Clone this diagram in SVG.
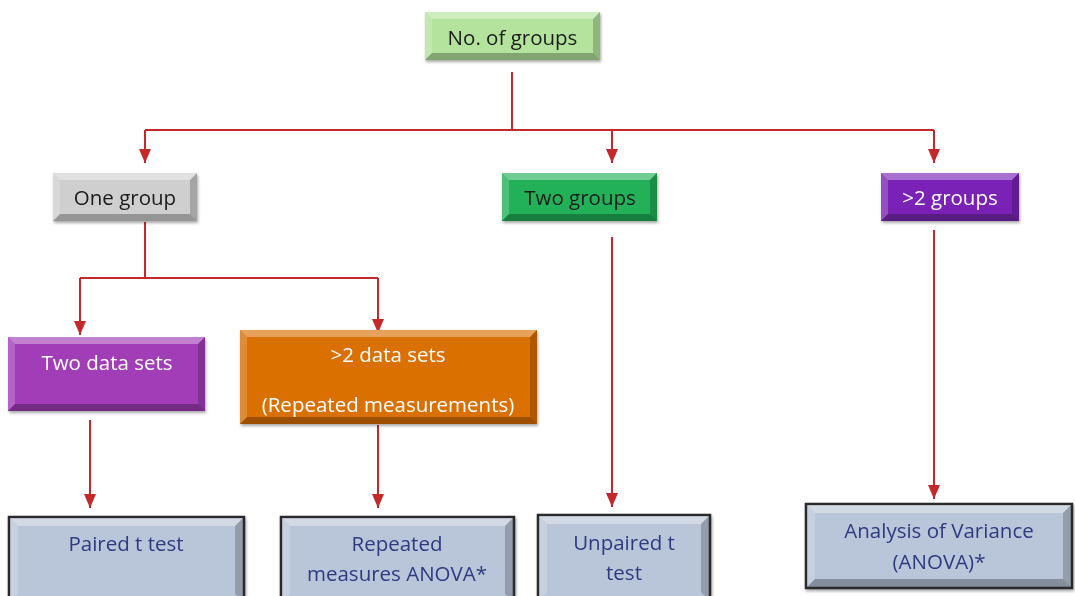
<svg xmlns="http://www.w3.org/2000/svg" width="1075" height="596" viewBox="0 0 1075 596">
  <defs>
    <marker id="arrow" markerUnits="userSpaceOnUse" viewBox="0 0 14 12" refX="14" refY="6" markerWidth="14" markerHeight="12" orient="auto">
      <path d="M0,0 L14,6 L0,12 z" fill="#c4282b"/>
    </marker>
    <filter id="shadow" x="-10%" y="-10%" width="120%" height="130%">
      <feGaussianBlur in="SourceAlpha" stdDeviation="1.5"/>
      <feOffset dx="1" dy="2" result="b"/>
      <feComponentTransfer><feFuncA type="linear" slope="0.35"/></feComponentTransfer>
      <feMerge><feMergeNode/><feMergeNode in="SourceGraphic"/></feMerge>
    </filter>
  </defs>
  <style>
    .lbl { font-family: "Open Sans", "Liberation Sans", sans-serif; font-size: 20.5px; text-anchor: middle; }
    .dark { fill: #1a1a1a; }
    .light { fill: #ffffff; }
    .navy { fill: #2e3a80; }
    .hi { fill: #ffffff; opacity: 0.35; }
    .hi2 { fill: #ffffff; opacity: 0.2; }
    .lo { fill: #000000; opacity: 0.2; }
    .lo2 { fill: #000000; opacity: 0.28; }
    .edge { stroke: #2a2a2a; stroke-width: 2.5; }
    .conn path { fill: none; stroke: #c4282b; stroke-width: 2; }
  </style>

  <!-- connectors -->
  <g class="conn">
    <path d="M512,72 V130"/>
    <path d="M145,130 H934"/>
    <path d="M145,130 V163" marker-end="url(#arrow)"/>
    <path d="M612,130 V163" marker-end="url(#arrow)"/>
    <path d="M934,130 V163" marker-end="url(#arrow)"/>
    <path d="M145,222 V278"/>
    <path d="M80,278 H378"/>
    <path d="M80,278 V335" marker-end="url(#arrow)"/>
    <path d="M378,278 V333" marker-end="url(#arrow)"/>
    <path d="M90,420 V508" marker-end="url(#arrow)"/>
    <path d="M378,425 V508" marker-end="url(#arrow)"/>
    <path d="M612,237 V507" marker-end="url(#arrow)"/>
    <path d="M934,230 V499" marker-end="url(#arrow)"/>
  </g>

  <!-- No. of groups -->
  <g id="node-groups" filter="url(#shadow)">
    <rect x="425" y="12" width="175" height="48" fill="#b3e39c"/>
    <polygon class="hi" points="425,12 600,12 593,19 432,19"/>
    <polygon class="hi2" points="425,12 432,19 432,53 425,60"/>
    <polygon class="lo" points="600,12 600,60 593,53 593,19"/>
    <polygon class="lo2" points="425,60 600,60 593,53 432,53"/>
    <text class="lbl dark" x="512.5" y="45">No. of groups</text>
  </g>

  <!-- One group -->
  <g id="node-one-group" filter="url(#shadow)">
    <rect x="53" y="173" width="144" height="48" fill="#cfcfcf"/>
    <polygon class="hi" points="53,173 197,173 190,180 60,180"/>
    <polygon class="hi2" points="53,173 60,180 60,214 53,221"/>
    <polygon class="lo" points="197,173 197,221 190,214 190,180"/>
    <polygon class="lo2" points="53,221 197,221 190,214 60,214"/>
    <text class="lbl dark" x="125" y="205">One group</text>
  </g>

  <!-- Two groups -->
  <g id="node-two-groups" filter="url(#shadow)">
    <rect x="502" y="173" width="155" height="48" fill="#22b159"/>
    <polygon class="hi" points="502,173 657,173 650,180 509,180"/>
    <polygon class="hi2" points="502,173 509,180 509,214 502,221"/>
    <polygon class="lo" points="657,173 657,221 650,214 650,180"/>
    <polygon class="lo2" points="502,221 657,221 650,214 509,214"/>
    <text class="lbl dark" x="580" y="205">Two groups</text>
  </g>

  <!-- >2 groups -->
  <g id="node-many-groups" filter="url(#shadow)">
    <rect x="881" y="173" width="138" height="48" fill="#7a24b5"/>
    <polygon class="hi" points="881,173 1019,173 1012,180 888,180"/>
    <polygon class="hi2" points="881,173 888,180 888,214 881,221"/>
    <polygon class="lo" points="1019,173 1019,221 1012,214 1012,180"/>
    <polygon class="lo2" points="881,221 1019,221 1012,214 888,214"/>
    <text class="lbl light" x="950" y="205">&gt;2 groups</text>
  </g>

  <!-- Two data sets -->
  <g id="node-two-data-sets" filter="url(#shadow)">
    <rect x="8" y="337" width="197" height="74" fill="#a23cb8"/>
    <polygon class="hi" points="8,337 205,337 198,344 15,344"/>
    <polygon class="hi2" points="8,337 15,344 15,404 8,411"/>
    <polygon class="lo" points="205,337 205,411 198,404 198,344"/>
    <polygon class="lo2" points="8,411 205,411 198,404 15,404"/>
    <text class="lbl light" x="107" y="370">Two data sets</text>
  </g>

  <!-- >2 data sets -->
  <g id="node-many-data-sets" filter="url(#shadow)">
    <rect x="240" y="330" width="297" height="94" fill="#d96f06"/>
    <polygon class="hi" points="240,330 537,330 530,337 247,337"/>
    <polygon class="hi2" points="240,330 247,337 247,417 240,424"/>
    <polygon class="lo" points="537,330 537,424 530,417 530,337"/>
    <polygon class="lo2" points="240,424 537,424 530,417 247,417"/>
    <text class="lbl light" x="388" y="362">&gt;2 data sets</text>
    <text class="lbl light" x="388" y="412">(Repeated measurements)</text>
  </g>

  <!-- Paired t test -->
  <g id="node-paired" filter="url(#shadow)">
    <rect class="edge" x="9" y="517" width="235" height="85" fill="#b9c5d8"/>
    <polygon class="hi" points="10,518 243,518 235,526 18,526"/>
    <polygon class="hi2" points="10,518 18,526 18,594 10,602"/>
    <polygon class="lo" points="243,518 243,602 235,594 235,526"/>
    <text class="lbl navy" x="126" y="551">Paired t test</text>
  </g>

  <!-- Repeated measures ANOVA -->
  <g id="node-rm-anova" filter="url(#shadow)">
    <rect class="edge" x="281" y="517" width="233" height="85" fill="#b9c5d8"/>
    <polygon class="hi" points="282,518 513,518 505,526 290,526"/>
    <polygon class="hi2" points="282,518 290,526 290,594 282,602"/>
    <polygon class="lo" points="513,518 513,602 505,594 505,526"/>
    <text class="lbl navy" x="397" y="551">Repeated</text>
    <text class="lbl navy" x="397" y="581">measures ANOVA*</text>
  </g>

  <!-- Unpaired t test -->
  <g id="node-unpaired" filter="url(#shadow)">
    <rect class="edge" x="538" y="515" width="172" height="85" fill="#b9c5d8"/>
    <polygon class="hi" points="539,516 709,516 701,524 547,524"/>
    <polygon class="hi2" points="539,516 547,524 547,592 539,600"/>
    <polygon class="lo" points="709,516 709,600 701,592 701,524"/>
    <text class="lbl navy" x="624" y="550">Unpaired t</text>
    <text class="lbl navy" x="624" y="580">test</text>
  </g>

  <!-- Analysis of Variance -->
  <g id="node-anova" filter="url(#shadow)">
    <rect class="edge" x="806" y="504" width="266" height="84" fill="#b9c5d8"/>
    <polygon class="hi" points="807,505 1071,505 1063,513 815,513"/>
    <polygon class="hi2" points="807,505 815,513 815,579 807,587"/>
    <polygon class="lo" points="1071,505 1071,587 1063,579 1063,513"/>
    <polygon class="lo2" points="807,587 1071,587 1063,579 815,579"/>
    <text class="lbl navy" x="939" y="538">Analysis of Variance</text>
    <text class="lbl navy" x="939" y="569">(ANOVA)*</text>
  </g>
</svg>
